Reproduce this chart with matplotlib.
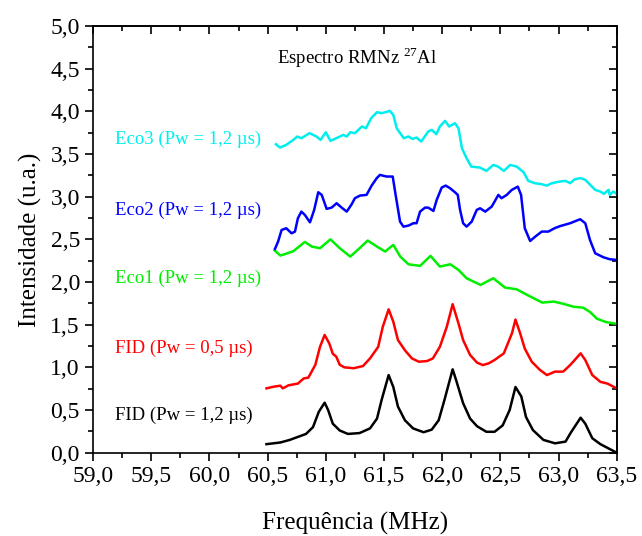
import matplotlib
matplotlib.use("Agg")
import matplotlib.pyplot as plt
from matplotlib.ticker import MultipleLocator, FuncFormatter

plt.rcParams["font.family"] = ["Liberation Serif", "DejaVu Serif"]
plt.rcParams["mathtext.fontset"] = "custom"
plt.rcParams["mathtext.rm"] = "Liberation Serif"

# FID (Pw = 1,2 us)
fid12_x = [60.49, 60.61, 60.69, 60.78, 60.83, 60.89, 60.94, 60.99, 61.02, 61.06,
           61.12, 61.19, 61.29, 61.38, 61.44, 61.48, 61.54, 61.58, 61.62, 61.68,
           61.75, 61.84, 61.91, 61.97, 62.02, 62.09, 62.12, 62.18, 62.24, 62.30,
           62.38, 62.45, 62.52, 62.58, 62.63, 62.68, 62.72, 62.78, 62.87, 62.97,
           63.06, 63.11, 63.19, 63.23, 63.29, 63.36, 63.43, 63.50]
fid12_y = [0.10, 0.12, 0.15, 0.195, 0.22, 0.30, 0.48, 0.586, 0.50, 0.34,
           0.26, 0.22, 0.23, 0.285, 0.40, 0.62, 0.91, 0.77, 0.54, 0.38,
           0.285, 0.24, 0.27, 0.38, 0.62, 0.977, 0.85, 0.58, 0.40, 0.31,
           0.245, 0.245, 0.32, 0.50, 0.77, 0.66, 0.42, 0.265, 0.15, 0.11,
           0.13, 0.245, 0.41, 0.34, 0.17, 0.10, 0.05, 0.0]

# FID (Pw = 0,5 us)
fid05_x = [60.49, 60.55, 60.61, 60.63, 60.68, 60.76, 60.81, 60.85, 60.91, 60.95,
           60.99, 61.03, 61.06, 61.09, 61.12, 61.16, 61.24, 61.32, 61.38, 61.45,
           61.49, 61.54, 61.58, 61.62, 61.68, 61.74, 61.80, 61.87, 61.92, 61.98,
           62.04, 62.09, 62.14, 62.18, 62.24, 62.30, 62.35, 62.40, 62.45, 62.53,
           62.60, 62.63, 62.67, 62.71, 62.77, 62.84, 62.90, 62.97, 63.04, 63.10,
           63.19, 63.23, 63.29, 63.36, 63.42, 63.50]
fid05_y = [0.754, 0.773, 0.785, 0.754, 0.79, 0.81, 0.87, 0.88, 1.03, 1.24,
           1.38, 1.28, 1.16, 1.125, 1.03, 1.0, 0.99, 1.016, 1.105, 1.24,
           1.477, 1.68, 1.535, 1.32, 1.20, 1.105, 1.066, 1.074, 1.105, 1.24,
           1.477, 1.74, 1.516, 1.32, 1.145, 1.055, 1.027, 1.047, 1.086, 1.164,
           1.40, 1.56, 1.40, 1.22, 1.066, 0.97, 0.91, 0.95, 0.95, 1.027,
           1.164, 1.086, 0.91, 0.83, 0.81, 0.754]

# Eco1
eco1_x = [60.56, 60.61, 60.72, 60.82, 60.88, 60.95, 61.04, 61.12, 61.21, 61.29,
          61.36, 61.44, 61.51, 61.58, 61.64, 61.71, 61.81, 61.90, 61.98, 62.07,
          62.14, 62.21, 62.33, 62.44, 62.54, 62.64, 62.73, 62.86, 62.96, 63.04,
          63.13, 63.21, 63.27, 63.33, 63.41, 63.50]
eco1_y = [2.37, 2.31, 2.36, 2.47, 2.415, 2.396, 2.50, 2.396, 2.298, 2.396,
          2.486, 2.415, 2.357, 2.435, 2.298, 2.208, 2.189, 2.306, 2.181, 2.208,
          2.142, 2.044, 1.966, 2.044, 1.935, 1.915, 1.849, 1.759, 1.771, 1.745,
          1.71, 1.70, 1.65, 1.57, 1.53, 1.51]

# Eco2
eco2_x = [60.563, 60.59, 60.62, 60.66, 60.706, 60.735, 60.76, 60.79, 60.82, 60.864,
          60.90, 60.935, 60.965, 61.007, 61.05, 61.093, 61.136, 61.18, 61.222, 61.25,
          61.294, 61.35, 61.394, 61.437, 61.465, 61.523, 61.575, 61.60, 61.638, 61.667,
          61.71, 61.753, 61.78, 61.81, 61.853, 61.88, 61.925, 61.953, 61.996, 62.03,
          62.068, 62.11, 62.134, 62.154, 62.18, 62.21, 62.254, 62.297, 62.326, 62.37,
          62.426, 62.483, 62.51, 62.555, 62.598, 62.65, 62.678, 62.71, 62.756, 62.80,
          62.856, 62.913, 62.965, 63.013, 63.10, 63.186, 63.23, 63.27, 63.315, 63.386,
          63.44, 63.50]
eco2_y = [2.388, 2.474, 2.61, 2.63, 2.571, 2.591, 2.747, 2.825, 2.786, 2.70,
          2.845, 3.052, 3.021, 2.857, 2.872, 2.923, 2.872, 2.825, 2.911, 2.982,
          3.013, 3.021, 3.13, 3.216, 3.255, 3.236, 3.236, 3.021, 2.708, 2.649,
          2.661, 2.689, 2.689, 2.825, 2.872, 2.872, 2.833, 2.962, 3.107, 3.13,
          3.099, 3.052, 3.021, 2.845, 2.689, 2.649, 2.708, 2.845, 2.864, 2.825,
          2.884, 3.021, 2.982, 3.021, 3.079, 3.118, 3.021, 2.63, 2.481, 2.532,
          2.591, 2.591, 2.63, 2.655, 2.689, 2.736, 2.689, 2.494, 2.337, 2.29,
          2.267, 2.259]

# Eco3
eco3_x = [60.571, 60.606, 60.66, 60.72, 60.755, 60.79, 60.86, 60.92, 60.955, 61.0,
          61.04, 61.09, 61.15, 61.18, 61.21, 61.25, 61.31, 61.345, 61.39, 61.44,
          61.48, 61.55, 61.58, 61.61, 61.67, 61.71, 61.745, 61.78, 61.82, 61.88,
          61.91, 61.95, 61.98, 62.025, 62.06, 62.11, 62.14, 62.17, 62.21, 62.25,
          62.325, 62.38, 62.44, 62.48, 62.53, 62.585, 62.64, 62.70, 62.74, 62.80,
          62.855, 62.90, 62.94, 63.01, 63.06, 63.10, 63.14, 63.19, 63.23, 63.315,
          63.36, 63.39, 63.43, 63.44, 63.47, 63.50]
eco3_y = [3.615, 3.576, 3.607, 3.665, 3.705, 3.685, 3.744, 3.705, 3.665, 3.755,
          3.654, 3.685, 3.724, 3.705, 3.755, 3.744, 3.822, 3.802, 3.92, 3.99,
          3.978, 4.005, 3.958, 3.80, 3.685, 3.705, 3.677, 3.693, 3.646, 3.763,
          3.783, 3.732, 3.822, 3.888, 3.822, 3.861, 3.802, 3.568, 3.45, 3.353,
          3.341, 3.302, 3.372, 3.353, 3.302, 3.372, 3.353, 3.286, 3.185, 3.157,
          3.146, 3.13, 3.157, 3.177, 3.185, 3.158, 3.205, 3.217, 3.197, 3.08,
          3.06, 3.033, 3.08, 3.02, 3.06, 3.033]

series = [
    (fid12_x, fid12_y, "black", "FID (Pw = 1,2 \u00b5s)", 0.442),
    (fid05_x, fid05_y, "#ff0000", "FID (Pw = 0,5 \u00b5s)", 1.227),
    (eco1_x, eco1_y, "#00ee00", "Eco1 (Pw = 1,2 \u00b5s)", 2.048),
    (eco2_x, eco2_y, "#0000ff", "Eco2 (Pw = 1,2 \u00b5s)", 2.845),
    (eco3_x, eco3_y, "#00eeee", "Eco3 (Pw = 1,2 \u00b5s)", 3.666),
]

fig = plt.figure(figsize=(6.42, 5.36), dpi=100)
ax = fig.add_axes([0.145, 0.1554, 0.8156, 0.7961])

for x, y, c, label, ly in series:
    ax.plot(x, y, color=c, lw=1.8, solid_joinstyle="round")
    ax.text(59.19, ly, label, color=c, fontsize=13.5, va="center", ha="left")

ax.text(61.27, 4.63, "Espectro RMNz $^{27}$Al", fontsize=13.5, ha="center", va="center")

ax.set_xlim(59.0, 63.5)
ax.set_ylim(0.0, 5.0)

comma = FuncFormatter(lambda v, p: f"{v:.1f}".replace(".", ","))
ax.xaxis.set_major_locator(MultipleLocator(0.5))
ax.xaxis.set_minor_locator(MultipleLocator(0.25))
ax.yaxis.set_major_locator(MultipleLocator(0.5))
ax.yaxis.set_minor_locator(MultipleLocator(0.25))
ax.xaxis.set_major_formatter(comma)
ax.yaxis.set_major_formatter(comma)
ax.tick_params(which="major", direction="out", length=6, width=1.2, labelsize=17)
ax.tick_params(which="minor", direction="out", length=3.5, width=1.2)

# mirrored ticks pointing inwards on top and right
top = ax.secondary_xaxis("top")
right = ax.secondary_yaxis("right")
for sec, axis in ((top, top.xaxis), (right, right.yaxis)):
    axis.set_major_locator(MultipleLocator(0.5))
    axis.set_minor_locator(MultipleLocator(0.25))
    sec.tick_params(which="major", direction="in", length=6, width=1.2)
    sec.tick_params(which="minor", direction="in", length=3.5, width=1.2)
    sec.tick_params(labeltop=False, labelright=False)
    for s in sec.spines.values():
        s.set_linewidth(1.2)

for s in ax.spines.values():
    s.set_linewidth(1.2)

ax.set_xlabel("Frequência (MHz)", fontsize=18, labelpad=18)
ax.set_ylabel("Intensidade (u.a.)", fontsize=18, labelpad=6)

fig.savefig("out.png", dpi=100)
